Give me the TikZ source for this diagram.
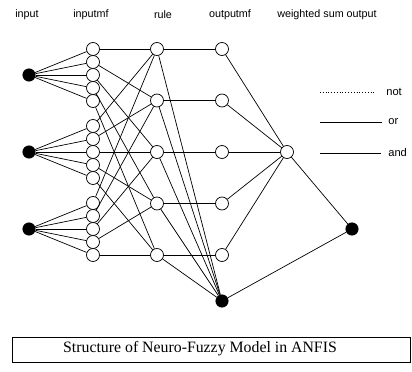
\documentclass[tikz,border=0pt]{standalone}
\usepackage{fontspec}
\setmainfont{Liberation Serif}
\setsansfont{Liberation Sans}
\usepackage{tikz}

\begin{document}
\begin{tikzpicture}[x=0.03cm,y=-0.03cm,semithick]
\tikzstyle{every node}=[inner sep=0pt];
\tikzstyle{mf}=[draw,circle,fill=white,minimum size=0.39cm];
\tikzstyle{blob}=[draw,circle,fill=black,minimum size=0.37cm];
\tikzstyle{head}=[font=\sffamily\fontsize{9.2}{10}\selectfont];
\tikzstyle{key}=[font=\sffamily\fontsize{9.5}{10}\selectfont,anchor=west];
\useasboundingbox (0,0) rectangle (412,372);

\node[head] (hin) at (27,15) {input};
\node[head] (hmf) at (91,15) {inputmf};
\node[head] (hrule) at (163,15) {rule};
\node[head] (hout) at (230,15) {outputmf};
\node[head] (hws) at (327,15) {weighted sum output};

\foreach \g in {1,2,3} {
	\node[blob] (in\g) at (29,{75+(\g-1)*77}) {};
	\foreach \k in {1,...,5}
		\node[mf] (mf\g\k) at (93,{49+(\g-1)*77+(\k-1)*13}) {};
}
\foreach \k in {1,...,5} {
	\node[mf] (rule\k) at (157,{49+(\k-1)*51.5}) {};
	\node[mf] (omf\k) at (222,{49+(\k-1)*51.5}) {};
}
\node[blob] (sum) at (222,301) {};
\node[mf] (ws) at (287,152) {};
\node[blob] (out) at (352,229) {};

\foreach \g in {1,2,3}
	\foreach \k in {1,...,5} {
		\draw (in\g) -- (mf\g\k);
		\draw (mf\g\k) -- (rule\k);
	}
\foreach \k in {1,...,5} {
	\draw (rule\k) -- (omf\k);
	\draw (rule\k) -- (sum);
	\draw (omf\k) -- (ws);
}
\draw (ws) -- (out);
\draw (sum) -- (out);

\coordinate (na) at (320,92);
\coordinate (nb) at (376,92);
\coordinate (oa) at (320,122);
\coordinate (ob) at (382,122);
\coordinate (aa) at (320,153);
\coordinate (ab) at (381,153);
\draw[dotted,thin] (na) -- (nb);
\draw (oa) -- (ob);
\draw (aa) -- (ab);
\node[key] (knot) at (386,92) {not};
\node[key] (kor) at (388,122) {or};
\node[key] (kand) at (388,153) {and};

\node[draw,minimum width=398*0.03cm,minimum height=25*0.03cm] (cap) at (211,349.5) {};
\node[font=\fontsize{13.5}{15}\selectfont] (title) at (200,349) {Structure of Neuro-Fuzzy Model in ANFIS};
\end{tikzpicture}
\end{document}
